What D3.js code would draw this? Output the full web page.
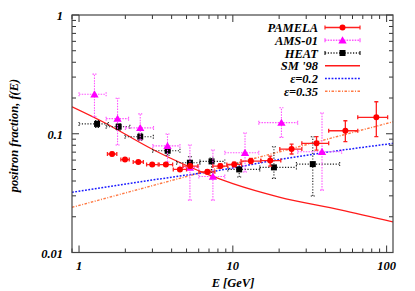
<!DOCTYPE html>
<html>
<head>
<meta charset="utf-8">
<script src="https://cdn.jsdelivr.net/npm/d3@7"></script>
<style>
  body { margin: 0; background: #fff; }
  text { font-family: 'Liberation Serif', 'Times New Roman', serif; font-weight: bold; font-style: italic; }
</style>
</head>
<body>
<svg id="chart" width="415" height="291"></svg>
<script>
// PAMELA
var pamelaE   = [1.64, 1.99, 2.43, 2.99, 3.67, 4.53, 5.28, 6.83, 8.29, 10.2, 13.1, 17.5, 24.1, 35.0, 53.9, 85.7];
var pamelaF   = [0.0675, 0.0606, 0.0578, 0.0550, 0.0550, 0.0501, 0.0534, 0.0478, 0.0534, 0.0552, 0.0589, 0.0595, 0.0743, 0.0830, 0.106, 0.1375];
var pamelaElo = [1.53, 1.87, 2.25, 2.75, 3.32, 4.10, 4.73, 6.02, 7.41, 9.14, 11.3, 15.2, 20.2, 28.1, 42.0, 64.9];
var pamelaEhi = [1.76, 2.12, 2.62, 3.27, 4.06, 5.00, 5.93, 7.64, 9.28, 11.4, 15.2, 20.5, 28.1, 42.0, 64.9, 101.5];
var pamelaFlo = [0.0655, 0.0590, 0.0562, 0.0535, 0.0533, 0.0485, 0.0515, 0.0460, 0.0513, 0.0528, 0.0560, 0.0534, 0.0675, 0.0729, 0.0857, 0.0944];
var pamelaFhi = [0.0695, 0.0623, 0.0595, 0.0566, 0.0567, 0.0518, 0.0553, 0.0497, 0.0556, 0.0577, 0.0620, 0.0649, 0.0819, 0.0944, 0.1287, 0.186];

// AMS-01
var amsE   = [1.26, 1.78, 2.50, 3.76, 5.26, 7.42, 12.0, 20.7, 38.0];
var amsF   = [0.215, 0.134, 0.112, 0.079, 0.052, 0.0436, 0.0692, 0.124, 0.0706];
var amsElo = [1.0, 1.5, 2.0, 3.02, 4.53, 6.01, 8.87, 14.75, 26.4];
var amsEhi = [1.5, 2.1, 3.05, 4.53, 6.0, 8.87, 14.75, 26.4, 51.0];
var amsFlo = [0.139, 0.0803, 0.0885, 0.0578, 0.0276, 0.0276, 0.0476, 0.0933, 0.0335];
var amsFhi = [0.318, 0.199, 0.147, 0.0994, 0.0803, 0.0729, 0.1014, 0.1656, 0.1494];

// HEAT
var heatE   = [1.31, 1.81, 2.50, 3.77, 5.26, 7.27, 11.0, 18.5, 33.1];
var heatF   = [0.121, 0.1146, 0.0944, 0.0719, 0.0570, 0.0585, 0.0501, 0.0521, 0.0555];
var heatElo = [1.0, 1.50, 1.99, 3.01, 4.31, 6.11, 9.28, 14.97, 25.9];
var heatEhi = [1.55, 2.14, 3.04, 4.53, 6.11, 8.87, 14.97, 25.9, 49.5];
var heatFlo = [0.113, 0.107, 0.088, 0.066, 0.051, 0.0467, 0.0432, 0.0421, 0.0299];
var heatFhi = [0.129, 0.122, 0.101, 0.078, 0.064, 0.0624, 0.0566, 0.0777, 0.0944];

// curves
var sm98E = [0.9, 1.5, 2, 3, 5, 7, 10, 20, 50, 110];
var sm98F = [0.169, 0.122, 0.099, 0.074, 0.054, 0.045, 0.038, 0.0293, 0.0229, 0.0181];
var eps02E = [0.9, 4.66, 7.09, 20.2, 110];
var eps02F = [0.0321, 0.0443, 0.0478, 0.0608, 0.083];
var eps035E = [0.9, 4.66, 20.2, 110];
var eps035F = [0.0240, 0.0426, 0.0706, 0.126];

var xTicks = [1, 10, 100];
var xTickLabels = ['1', '10', '100'];
var yTicks = [0.01, 0.1, 1];
var yTickLabels = ['0.01', '0.1', '1'];

(function () {
var svg = d3.select('#chart');
var pL = 72, pR = 393, pT = 15, pB = 252.5;

var x = d3.scaleLog().domain([0.9, 110]).range([pL, pR]);
var y = d3.scaleLog().domain([0.01, 1]).range([pB, pT]);

svg.append('rect').attr('width', 415).attr('height', 291).attr('fill', '#fff');

svg.append('clipPath').attr('id', 'clip')
  .append('rect').attr('x', pL).attr('y', pT).attr('width', pR - pL).attr('height', pB - pT);

var plot = svg.append('g').attr('clip-path', 'url(#clip)');

function zip(a, b) { return a.map(function (v, i) { return [v, b[i]]; }); }

var line = d3.line()
  .x(function (d) { return x(d[0]); })
  .y(function (d) { return y(d[1]); })
  .curve(d3.curveMonotoneX);

plot.append('path').attr('d', line(zip(eps035E, eps035F)))
  .attr('fill', 'none').attr('stroke', '#ff7a45').attr('stroke-width', 1.4).attr('stroke-dasharray', '2.5,1.5,1,1.5');
plot.append('path').attr('d', line(zip(eps02E, eps02F)))
  .attr('fill', 'none').attr('stroke', '#1a1aff').attr('stroke-width', 1.5).attr('stroke-dasharray', '1.8,1.5');
plot.append('path').attr('d', line(zip(sm98E, sm98F)))
  .attr('fill', 'none').attr('stroke', '#ff1a1a').attr('stroke-width', 1.3);

function errorBars(g, E, F, Elo, Ehi, Flo, Fhi, color, dash, width) {
  var cap = 2;
  E.forEach(function (e, i) {
    var cx = x(e), cy = y(F[i]);
    var x0 = x(Elo[i]), x1 = x(Ehi[i]), y0 = y(Flo[i]), y1 = y(Fhi[i]);
    var segs = [
      [x0, cy, x1, cy], [x0, cy - cap, x0, cy + cap], [x1, cy - cap, x1, cy + cap],
      [cx, y0, cx, y1], [cx - cap, y0, cx + cap, y0], [cx - cap, y1, cx + cap, y1]
    ];
    g.selectAll(null).data(segs).enter().append('line')
      .attr('x1', function (s) { return s[0]; }).attr('y1', function (s) { return s[1]; })
      .attr('x2', function (s) { return s[2]; }).attr('y2', function (s) { return s[3]; })
      .attr('stroke', color).attr('stroke-width', width)
      .attr('stroke-dasharray', dash);
  });
}

var tri = d3.symbol().type(d3.symbolTriangle).size(30);

// HEAT
var gHeat = plot.append('g');
errorBars(gHeat, heatE, heatF, heatElo, heatEhi, heatFlo, heatFhi, '#222', '1.2,1.6', 1.1);
gHeat.selectAll('rect').data(heatE).enter().append('rect')
  .attr('x', function (d) { return x(d) - 3; })
  .attr('y', function (d, i) { return y(heatF[i]) - 3; })
  .attr('width', 6).attr('height', 6).attr('fill', '#000');

// AMS-01
var gAms = plot.append('g');
errorBars(gAms, amsE, amsF, amsElo, amsEhi, amsFlo, amsFhi, '#ff55ff', '1.5,1.2', 1.1);
gAms.selectAll('path.m').data(amsE).enter().append('path')
  .attr('class', 'm')
  .attr('d', tri)
  .attr('transform', function (d, i) { return 'translate(' + x(d) + ',' + (y(amsF[i]) + 0.8) + ')'; })
  .attr('fill', '#ff00ff');

// PAMELA
var gPam = plot.append('g');
errorBars(gPam, pamelaE, pamelaF, pamelaElo, pamelaEhi, pamelaFlo, pamelaFhi, '#ff2020', null, 1.3);
gPam.selectAll('circle').data(pamelaE).enter().append('circle')
  .attr('cx', function (d) { return x(d); })
  .attr('cy', function (d, i) { return y(pamelaF[i]); })
  .attr('r', 3).attr('fill', '#ff0000');

// ticks
var axisG = svg.append('g').attr('stroke', '#333').attr('stroke-width', 1);
var xMinor = [], yMinor = [];
[0.1, 1, 10, 100].forEach(function (dec) {
  for (var k = 1; k <= 9; k++) {
    var v = dec * k;
    if (v >= 0.9 && v <= 110) xMinor.push({ v: v, major: k === 1 });
  }
});
[0.01, 0.1].forEach(function (dec) {
  for (var k = 1; k <= 9; k++) yMinor.push({ v: dec * k, major: k === 1 });
});
yMinor.push({ v: 1, major: true });

xMinor.forEach(function (t) {
  var len = t.major ? 7 : 4;
  var px = x(t.v);
  axisG.append('line').attr('x1', px).attr('x2', px).attr('y1', pB).attr('y2', pB - len);
  axisG.append('line').attr('x1', px).attr('x2', px).attr('y1', pT).attr('y2', pT + len);
});
yMinor.forEach(function (t) {
  var len = t.major ? 7 : 4;
  var py = y(t.v);
  axisG.append('line').attr('y1', py).attr('y2', py).attr('x1', pL).attr('x2', pL + len);
  axisG.append('line').attr('y1', py).attr('y2', py).attr('x1', pR).attr('x2', pR - len);
});

svg.append('rect').attr('x', pL).attr('y', pT).attr('width', pR - pL).attr('height', pB - pT)
  .attr('fill', 'none').attr('stroke', '#444').attr('stroke-width', 1.2);

// tick labels
svg.selectAll('text.xt').data(xTicks).enter().append('text')
  .attr('class', 'xt')
  .attr('x', function (d) { return x(d); }).attr('y', 270)
  .attr('text-anchor', 'middle').attr('font-size', 12.5)
  .text(function (d, i) { return xTickLabels[i]; });
svg.selectAll('text.yt').data(yTicks).enter().append('text')
  .attr('class', 'yt')
  .attr('x', 63).attr('y', function (d) { return y(d) + 5; })
  .attr('text-anchor', 'end').attr('font-size', 12.5)
  .text(function (d, i) { return yTickLabels[i]; });

svg.append('text').attr('x', 233).attr('y', 287).attr('text-anchor', 'middle').attr('font-size', 12.5)
  .text('E [GeV]');
svg.append('text').attr('transform', 'translate(18,135.5) rotate(-90)').attr('text-anchor', 'middle').attr('font-size', 12.5)
  .text('positron fraction, f(E)');

// legend
var legend = [
  { label: 'PAMELA', color: '#ff2020', dash: null, mark: 'circle', bars: true },
  { label: 'AMS-01', color: '#ff55ff', dash: '1.5,1.2', mark: 'tri', bars: true },
  { label: 'HEAT', color: '#222', dash: '1.2,1.6', mark: 'square', bars: true },
  { label: "SM '98", color: '#ff1a1a', dash: null, mark: null, bars: false },
  { label: 'ε=0.2', color: '#1a1aff', dash: '1.8,1.5', mark: null, bars: false },
  { label: 'ε=0.35', color: '#ff7a45', dash: '2.5,1.5,1,1.5', mark: null, bars: false }
];
var lg = svg.append('g');
legend.forEach(function (d, i) {
  var ly = 27.5 + i * 12.75;
  lg.append('text').attr('x', 318).attr('y', ly + 4.5).attr('text-anchor', 'end').attr('font-size', 12.5).text(d.label);
  lg.append('line').attr('x1', 325).attr('x2', 360).attr('y1', ly).attr('y2', ly)
    .attr('stroke', d.color).attr('stroke-width', i === 3 ? 1.4 : 1.3).attr('stroke-dasharray', d.dash);
  if (d.bars) {
    [325, 360].forEach(function (cx) {
      lg.append('line').attr('x1', cx).attr('x2', cx).attr('y1', ly - 2).attr('y2', ly + 2)
        .attr('stroke', d.color).attr('stroke-width', 1.2);
    });
  }
  if (d.mark === 'circle') lg.append('circle').attr('cx', 342.5).attr('cy', ly).attr('r', 3).attr('fill', '#ff0000');
  if (d.mark === 'tri') lg.append('path').attr('d', tri).attr('transform', 'translate(342.5,' + (ly + 0.8) + ')').attr('fill', '#ff00ff');
  if (d.mark === 'square') lg.append('rect').attr('x', 339.5).attr('y', ly - 3).attr('width', 6).attr('height', 6).attr('fill', '#000');
});
})();
</script>
</body>
</html>
